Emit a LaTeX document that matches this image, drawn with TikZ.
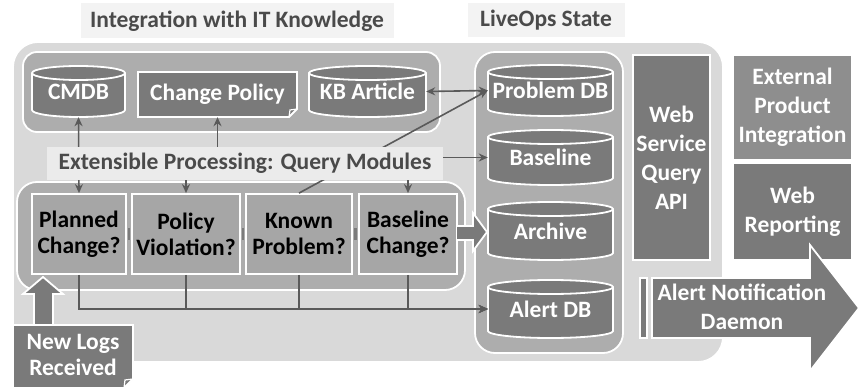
\documentclass[tikz,border=0pt]{standalone}
\usepackage{fontspec}
\setmainfont{Carlito}
\usetikzlibrary{arrows.meta}
\definecolor{bgouter}{HTML}{D9D9D9}
\definecolor{grp}{HTML}{ADADAD}
\definecolor{qbox}{HTML}{A6A6A6}
\definecolor{dark}{HTML}{7A7A7A}
\definecolor{extc}{HTML}{8E8E8E}
\definecolor{lbl}{HTML}{EBEBEB}
\definecolor{ttl}{HTML}{F3F3F3}
\definecolor{lnc}{HTML}{5A5A5A}
\definecolor{ttxt}{HTML}{4A4A4A}
\tikzset{
  wb/.style={draw=white, line width=1.8pt},
  grpbox/.style={wb, fill=grp},
  bigfont/.style={font=\fontsize{23.5}{26}\selectfont\bfseries},
  qnode/.style={wb, fill=qbox, inner sep=0pt, align=center, bigfont, text=black},
  dnode/.style={wb, fill=dark, inner sep=0pt, align=center, font=\fontsize{23.5}{29}\selectfont\bfseries, text=white},
  ttlnode/.style={fill=ttl, inner sep=0pt, bigfont, text=ttxt},
  wtext/.style={inner sep=0pt, align=center, bigfont, text=white},
  dshape/.style={wb, fill=dark},
  tip/.style={Stealth[length=9pt,width=8pt]},
  lnk/.style={draw=lnc, line width=1.6pt, {Stealth[length=9pt,width=8pt]}-{Stealth[length=9pt,width=8pt]}},
  lnkr/.style={draw=lnc, line width=1.6pt, -{Stealth[length=9pt,width=8pt]}},
  mk/.style={draw=lnc!80, line width=12pt, shorten <=1.4pt, shorten >=1.4pt},
}
% name, x1, y1, x2, y2, text
\newcommand\dbcyl[6]{%
  \pgfmathsetmacro\rxx{(#4-#2)/2}%
  \filldraw[dshape] (#2,#3+7) -- (#2,#5-7)
     arc[start angle=180,end angle=360,x radius=\rxx pt,y radius=7pt]
     -- (#4,#3+7)
     arc[start angle=0,end angle=180,x radius=\rxx pt,y radius=7pt] -- cycle;
  \draw[white, line width=1.8pt] (#2,#3+7)
     arc[start angle=180,end angle=360,x radius=\rxx pt,y radius=7pt];
  \node[wtext, minimum width={(#4-#2)*1pt}, minimum height={(#5-#3)*1pt}] (#1)
     at ({(#2+#4)/2},{(#3+#5)/2}) {\raisebox{-4pt}{#6}};
}
\begin{document}
\begin{tikzpicture}[x=1pt,y=-1pt]
\useasboundingbox (0,0) rectangle (858,390);
\fill[white] (0,0) rectangle (858,390);

% titles
\node[ttlnode, minimum width=313pt, minimum height=35pt] (t1) at (237,21) {Integration with IT Knowledge};
\node[ttlnode, minimum width=157pt, minimum height=34pt] (t2) at (546,20) {LiveOps State};

% outer container
\draw[wb, fill=bgouter, rounded corners=25pt] (13,42) rectangle (723,362);

% groups
\draw[grpbox, rounded corners=14pt] (23,52) rectangle (440,132);
\draw[grpbox, rounded corners=20pt] (17,182) rectangle (465,290);
\draw[grpbox, rounded corners=20pt] (475,52) rectangle (623,353);

% top group items
\dbcyl{cmdb}{32}{66}{125}{117}{CMDB}
\draw[dshape] (138,72) -- (297,72) -- (297,109) -- (289,117) -- (138,117) -- cycle;
\draw[white, line width=1.2pt] (289,117) -- (290,110) -- (297,109);
\node[wtext, minimum width=159pt, minimum height=45pt] (cp) at (217.5,94.5) {Change Policy};
\dbcyl{kb}{309}{66}{426}{117}{KB Article}

% LiveOps state
\dbcyl{pdb}{488}{65}{613}{116}{Problem DB}
\dbcyl{bl}{488}{130}{613}{185}{Baseline}
\dbcyl{arc}{488}{202}{613}{260}{Archive}
\dbcyl{adb}{488}{280}{613}{338}{Alert DB}

% query modules
\node[qnode, minimum width=94pt, minimum height=80pt] (pc) at (79,234) {Planned\\Change?};
\node[qnode, minimum width=108pt, minimum height=80pt] (pv) at (186,234) {Policy\\Violation?};
\node[qnode, minimum width=106pt, minimum height=80pt] (kp) at (299,234) {Known\\Problem?};
\node[qnode, minimum width=98pt, minimum height=80pt] (bc) at (408,234) {Baseline\\Change?};
\draw[mk] (pc.east) -- (pv.west);
\draw[mk] (pv.east) -- (kp.west);
\draw[mk] (kp.east) -- (bc.west);

% connectors
\draw[lnk] (cmdb.south) -- (pc.north);
\draw[lnk] (cp.south) -- ++(0,46) -| (pv.north);
\draw[lnk] (bc.north) |- (bl.west);
\draw[lnkr] (kp.north) -- (pdb.west);
\draw[lnk] (kb.east) -- (pdb.west);
\draw[lnkr] (pc.south) |- (adb.west);
\draw[lnkr] (pv.south) |- (adb.west);
\draw[lnkr] (kp.south) |- (adb.west);
\draw[lnkr] (bc.south) |- (adb.west);

% label over connectors
\node[fill=lbl, inner sep=0pt, minimum width=396pt, minimum height=33pt, bigfont, text=ttxt] (ext) at (245,163.5) {Extensible Processing: Query Modules};

% block arrow baseline change -> archive
\draw[dshape] (457,226) -- (473,226) -- (473,213) -- (487,232) -- (473,251) -- (473,240) -- (457,240);

% right side
\node[dnode, minimum width=77pt, minimum height=205pt] (ws) at (671.5,157.5) {Web\\Service\\Query\\API};
\node[dnode, fill=extc, minimum width=119pt, minimum height=105pt] (ep) at (792.5,107.5) {External\\Product\\Integration};
\node[dnode, minimum width=119pt, minimum height=97pt] (wr) at (792.5,211.5) {Web\\Reporting};

% alert notification daemon arrow
\draw[dshape] (640,278) rectangle (647,338);
\draw[dshape] (652,278) -- (810,278) -- (810,245) -- (859,308) -- (810,371) -- (810,338) -- (652,338) -- cycle;
\node[wtext, font=\fontsize{23.5}{29}\selectfont\bfseries] (and) at (742,307) {Alert Notification\\Daemon};

% new logs
\draw[dshape] (34,325) -- (34,294) -- (23,294) -- (43,277) -- (63,294) -- (53,294) -- (53,325);
\draw[dshape] (13,325) -- (133,325) -- (133,379) -- (124,388) -- (13,388) -- cycle;
\draw[white, line width=1.2pt] (124,388) -- (125,380) -- (133,379);
\node[wtext, minimum width=120pt, minimum height=63pt] (nl) at (73,355) {New Logs\\Received};
\end{tikzpicture}
\end{document}
